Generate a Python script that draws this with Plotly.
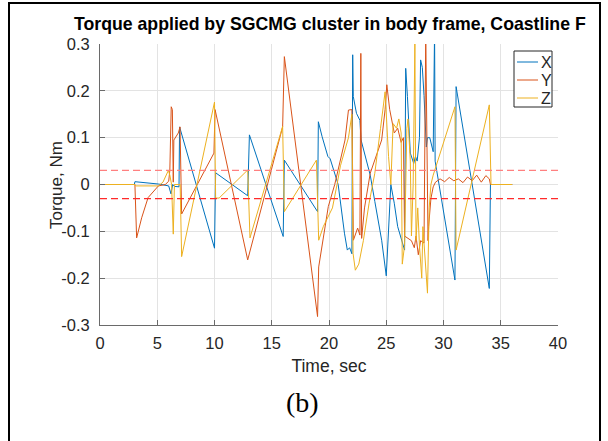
import plotly.graph_objects as go

# ---------------- data ----------------
t_x = [0, 3.0, 3.05, 4.0, 5.1, 6.0, 6.2, 6.35, 6.5, 6.9, 6.95, 10.0, 10.1, 12.9, 13.05, 16.0, 16.1,
       19.0, 19.07, 19.4, 19.9, 20.1, 20.4, 20.8, 21.35, 21.6, 21.8, 22.0, 22.07, 22.12, 22.4, 22.7,
       22.8, 23.6, 24.0, 24.6, 25.0, 25.4, 25.7, 26.0, 26.6, 26.7, 26.85, 27.1, 27.4, 27.55, 27.7,
       27.9, 28.0, 28.15, 28.3, 28.5, 28.6, 28.8, 29.1, 29.15, 29.22, 29.27, 31.0, 31.1, 34.0, 34.1, 36.0]
x_vals = [0, 0, 0.006, 0.004, 0.001, -0.003, -0.02, 0.0, -0.004, -0.005, 0.123, -0.136, 0.025, -0.024,
          0.106, -0.111, 0.052, -0.058, 0.134, 0.102, 0.06, 0.055, 0.031, 0.0, -0.104, -0.14, -0.135,
          -0.148, 0.277, 0.188, 0.152, 0.137, 0.095, 0.02, -0.036, -0.119, -0.195, 0.0, -0.04, -0.09,
          -0.14, 0.248, 0.188, 0.067, 0.045, 0.06, 0.05, 0.1, 0.266, 0.25, 0.19, 0.08, 0.1, 0.1, 0.07,
          0.33, 0.33, 0.05, -0.204, 0.209, -0.222, 0.0, 0.0]

t_y = [0, 3.05, 3.2, 3.64, 4.2, 4.66, 5.1, 5.7, 6.0, 6.1, 6.22, 6.32, 6.4, 6.45, 6.84, 6.99, 7.13,
       9.95, 10.05, 12.9, 15.95, 16.1, 19.0, 19.1, 19.94, 20.5, 21.1, 21.4, 21.7, 22.0, 22.13, 22.5,
       22.7, 22.78, 22.85, 23.1, 23.6, 24.6, 24.9, 25.05, 25.3, 25.7, 26.0, 26.3, 26.5, 26.6, 26.9,
       27.2, 27.45, 27.6, 27.8, 28.0, 28.3, 28.4, 28.45, 28.65, 28.7, 28.9, 29.1, 29.3, 29.7, 30.1,
       30.5, 30.9, 31.3, 31.7, 32.1, 32.5, 32.9, 33.3, 33.7, 34.0, 34.1, 36.0]
y_vals = [0, 0, -0.114, -0.071, -0.028, -0.014, -0.003, 0.0, 0.007, 0.03, 0.166, 0.16, 0.005, 0.095,
          0.11, 0.123, -0.063, 0.067, 0.16, -0.161, 0.123, 0.273, -0.282, -0.176, -0.047, 0.0, 0.06,
          0.095, 0.159, 0.16, -0.119, -0.093, -0.108, 0.28, -0.115, -0.05, 0.024, 0.095, 0.16, 0.213,
          0.16, 0.11, 0.12, 0.09, 0.1, -0.11, -0.115, -0.12, -0.135, -0.11, -0.15, -0.12, -0.125,
          0.32, 0.32, -0.12, -0.09, -0.03, -0.005, 0.005, 0.012, 0.006, 0.015, 0.008, 0.012, 0.004,
          0.016, 0.008, 0.02, 0.005, 0.019, 0.012, 0.0, 0.0]

t_z = [0, 3.05, 3.1, 5.1, 5.5, 5.97, 6.1, 6.25, 6.4, 6.5, 6.84, 7.0, 7.13, 10.0, 10.1, 10.4, 12.9,
       13.1, 15.95, 16.1, 18.9, 19.1, 19.5, 19.9, 20.3, 20.7, 21.0, 21.7, 22.0, 22.1, 22.3, 22.6,
       23.0, 23.5, 24.0, 24.5, 24.9, 25.2, 25.4, 25.6, 25.9, 26.1, 26.3, 26.4, 26.6, 26.8, 26.9,
       27.1, 27.2, 27.35, 27.5, 27.6, 27.75, 27.9, 28.1, 28.2, 28.35, 28.6, 28.75, 28.9, 29.1,
       31.0, 31.1, 34.0, 34.15, 36.0]
z_vals = [0, 0, -0.003, -0.003, 0.005, 0.03, 0.02, 0.0, -0.106, 0.0, 0.0, 0.0, -0.154, 0.176, -0.029,
          -0.029, 0.031, -0.114, 0.124, -0.058, 0.052, -0.119, -0.09, -0.07, -0.05, 0.0, 0.04, 0.1,
          0.15, -0.147, -0.183, -0.17, -0.12, -0.04, 0.024, 0.12, 0.198, 0.06, 0.0, 0.13, 0.12, 0.14,
          0.11, -0.17, -0.13, 0.12, 0.14, 0.05, -0.11, 0.0, 0.30, -0.12, -0.05, -0.13, -0.2, -0.09,
          -0.15, -0.232, -0.05, 0.0, 0.02, 0.166, -0.14, 0.17, 0.0, 0.0]

series_names = ["X", "Y", "Z"]
threshold = 0.03
x_ticks = [0, 5, 10, 15, 20, 25, 30, 35, 40]
y_ticks = [-0.3, -0.2, -0.1, 0, 0.1, 0.2, 0.3]
y_ticklabels = ["-0.3", "-0.2", "-0.1", "0", "0.1", "0.2", "0.3"]

# ---------------- figure ----------------
W, H = 608, 441
L, R, T, B = 100, 558, 44, 325          # plot area in pixels
PW, PH = R - L, B - T


def px(xp):
    return (xp - L) / PW


def py(yp):
    return (B - yp) / PH


colors = ["#0072BD", "#D95319", "#EDB120"]
fig = go.Figure()
for name, tt, vv, col in zip(series_names, [t_x, t_y, t_z], [x_vals, y_vals, z_vals], colors):
    fig.add_trace(go.Scatter(x=tt, y=vv, mode="lines", name=name, showlegend=False,
                             line=dict(color=col, width=1)))

fig.add_shape(type="line", xref="x", yref="y", x0=0, x1=40, y0=threshold, y1=threshold,
              line=dict(color="#ff8080", width=1.2, dash="7px,4px"))
fig.add_shape(type="line", xref="x", yref="y", x0=0, x1=40, y0=-threshold, y1=-threshold,
              line=dict(color="#ff2a2a", width=1.2, dash="7px,4px"))

# outer frame
fig.add_shape(type="rect", xref="paper", yref="paper",
              x0=px(9), x1=px(600), y0=py(446), y1=py(3),
              line=dict(color="black", width=2), fillcolor="rgba(0,0,0,0)")

font_fam = "Arial, Liberation Sans, sans-serif"

# legend (boxed, top-right inside the axes)
fig.add_shape(type="rect", xref="paper", yref="paper",
              x0=px(514), x1=px(552), y0=py(107), y1=py(51),
              line=dict(color="#262626", width=1), fillcolor="white", layer="above")
row_y = [62, 80, 98]
for name, col, ry in zip(series_names, colors, row_y):
    fig.add_shape(type="line", xref="paper", yref="paper",
                  x0=px(517), x1=px(538), y0=py(ry), y1=py(ry),
                  line=dict(color=col, width=1), layer="above")
    fig.add_annotation(text=name, xref="paper", yref="paper", x=px(539), y=py(ry),
                       xanchor="left", yanchor="middle", showarrow=False,
                       font=dict(family=font_fam, size=16, color="#262626"))

fig.update_layout(
    width=W, height=H,
    margin=dict(l=L, r=W - R, t=T, b=H - B),
    paper_bgcolor="white", plot_bgcolor="white",
    showlegend=False,
    xaxis=dict(range=[0, 40], tickvals=x_ticks, automargin=False,
               showgrid=True, gridcolor="#e3e3e3", gridwidth=1, zeroline=False,
               showline=True, linecolor="#6a6a6a", linewidth=1,
               ticks="inside", ticklen=5, tickcolor="#6a6a6a",
               ticklabelstandoff=3,
               tickfont=dict(family=font_fam, size=16.5, color="#262626"),
               title=dict(text="Time, sec", font=dict(family=font_fam, size=17.5, color="#262626"),
                          standoff=8)),
    yaxis=dict(range=[-0.3, 0.3], tickvals=y_ticks, ticktext=y_ticklabels, automargin=False,
               showgrid=True, gridcolor="#e3e3e3", gridwidth=1, zeroline=False,
               showline=True, linecolor="#6a6a6a", linewidth=1,
               ticks="inside", ticklen=5, tickcolor="#6a6a6a",
               ticklabelstandoff=6,
               tickfont=dict(family=font_fam, size=16.5, color="#262626")),
)

fig.add_annotation(text="Torque, Nm", xref="paper", yref="paper", x=px(56), y=py(185),
                   xanchor="center", yanchor="middle", textangle=-90, showarrow=False,
                   font=dict(family=font_fam, size=17, color="#262626"))
fig.add_annotation(text="<b>Torque applied by SGCMG cluster in body frame, Coastline F</b>",
                   xref="paper", yref="paper", x=px(330), y=py(24),
                   xanchor="center", yanchor="middle", showarrow=False,
                   font=dict(family=font_fam, size=17.7, color="black"))
fig.add_annotation(text="(b)", xref="paper", yref="paper", x=px(302), y=py(402),
                   xanchor="center", yanchor="middle", showarrow=False,
                   font=dict(family="Liberation Serif, Times New Roman, serif", size=28, color="black"))

fig.write_html("out.html")
